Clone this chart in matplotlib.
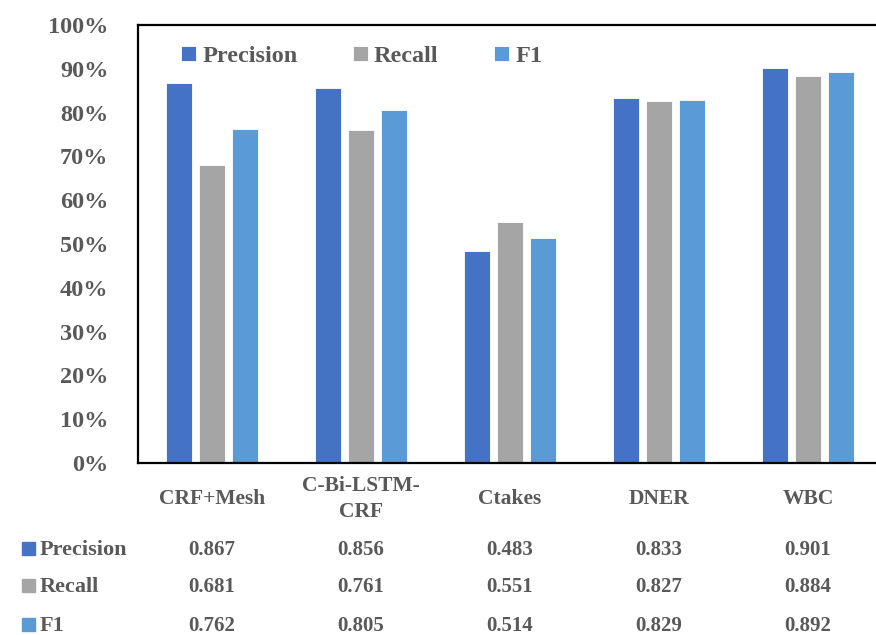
import matplotlib.pyplot as plt
import numpy as np
from matplotlib.patches import Rectangle

# data
models = ['CRF+Mesh', 'C-Bi-LSTM-\nCRF', 'Ctakes', 'DNER', 'WBC']
precision = [0.867, 0.856, 0.483, 0.833, 0.901]
recall = [0.681, 0.761, 0.551, 0.827, 0.884]
f1 = [0.762, 0.805, 0.514, 0.829, 0.892]
series_names = ['Precision', 'Recall', 'F1']
colors = ['#4472C4', '#A5A5A5', '#5B9BD5']
text_color = '#595959'

plt.rcParams['font.family'] = ['Liberation Serif', 'DejaVu Serif']
plt.rcParams['font.weight'] = 'bold'

W, H = 876, 635
fig = plt.figure(figsize=(W / 100, H / 100), dpi=100)
ax = fig.add_axes([137.5 / W, 1 - 463 / H, 745 / W, 438 / H])

x = np.arange(len(models))
width = 0.175
offsets = [-0.221, 0.0, 0.221]
for vals, off, c, name in zip([precision, recall, f1], offsets, colors, series_names):
    ax.bar(x + off, vals, width, color=c, edgecolor='white', linewidth=0.6, label=name)

ax.set_xlim(-0.5, len(models) - 0.5)
ax.set_ylim(0, 1)
ticks = np.arange(0, 1.01, 0.1)
ax.set_yticks(ticks)
ax.set_yticklabels([f'{int(round(v * 100))}%' for v in ticks])
ax.tick_params(axis='y', length=0, pad=21, labelsize=17.5, labelcolor=text_color)
ax.set_xticks(x)
ax.set_xticklabels(models, linespacing=1.45)
ax.tick_params(axis='x', length=0, pad=26, labelsize=15.5, labelcolor=text_color)
for lab in ax.get_xticklabels():
    lab.set_verticalalignment('center')

for s in ['left', 'top', 'bottom']:
    ax.spines[s].set_linewidth(1.6)
    ax.spines[s].set_color('black')
ax.spines['right'].set_visible(False)

leg = ax.legend(ncol=3, loc='upper left', bbox_to_anchor=(0.0296, 1.003), frameon=False,
                handlelength=0.6, handleheight=0.6, handletextpad=0.25, columnspacing=2.3,
                prop={'size': 17.5, 'weight': 'bold'})
for t in leg.get_texts():
    t.set_color(text_color)

# data table under the chart
row_y = [548, 585, 624]
for rows, name, c, yy in zip([precision, recall, f1], series_names, colors, row_y):
    fy = 1 - yy / H
    ty = fy - 2 / H
    fig.patches.append(Rectangle((22 / W, fy - 7 / H), 13 / W, 13 / H,
                                 transform=fig.transFigure, color=c))
    fig.text(40 / W, ty, name, ha='left', va='center', fontsize=16,
             color=text_color, weight='bold')
    for xi, v in zip(x, rows):
        xf = fig.transFigure.inverted().transform(ax.transData.transform((xi, 0)))[0]
        fig.text(xf, ty, f'{v:.3f}', ha='center', va='center', fontsize=15,
                 color=text_color, weight='bold')

fig.savefig('out.png', dpi=100)
